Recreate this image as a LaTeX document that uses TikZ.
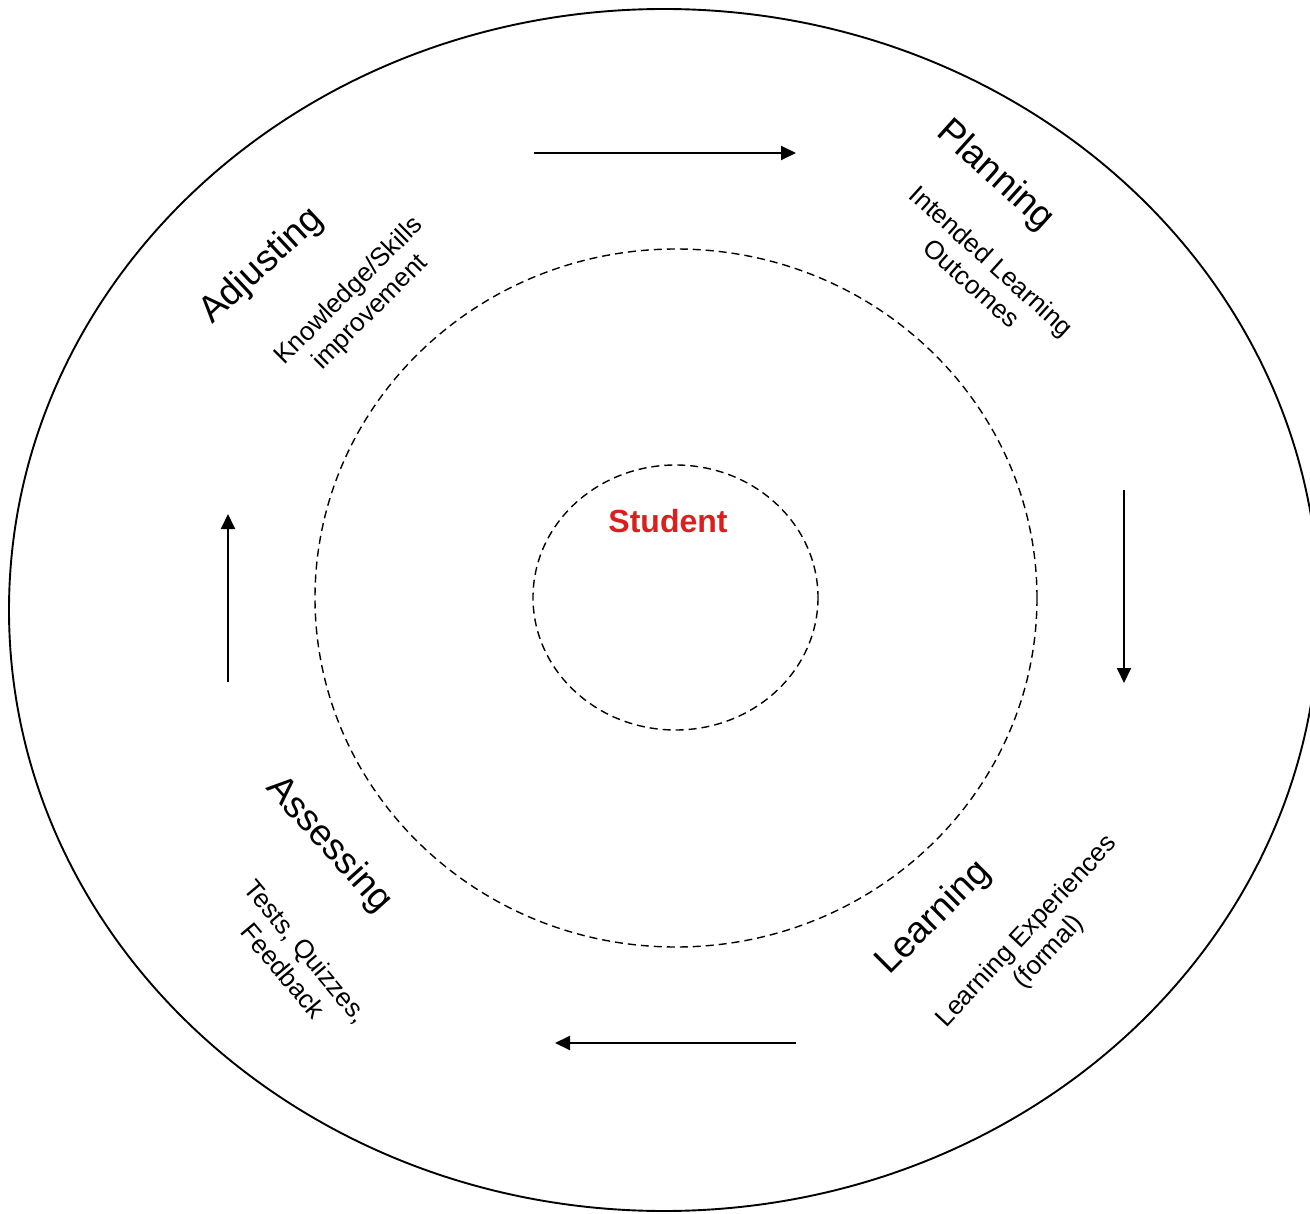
\documentclass[tikz,border=0pt]{standalone}
\usepackage{fontspec}
\setmainfont{Liberation Sans}
\usetikzlibrary{arrows.meta}
\definecolor{studentred}{RGB}{220,30,30}
\begin{document}
\begin{tikzpicture}[x=1pt,y=-1pt,
  ring/.style={draw=black,line width=1.9pt},
  dashring/.style={draw=black,line width=1.4pt,dash pattern=on 8pt off 5pt},
  flow/.style={line width=1.9pt,-{Triangle[length=15pt,width=14pt]}},
  phase/.style={font=\fontsize{37}{43}\selectfont},
  detail/.style={font=\fontsize{26}{30}\selectfont,align=center}]
\useasboundingbox (0,0) rectangle (1310,1214);
% the three rings
\draw[ring] (664,610) ellipse [x radius=655, y radius=601];
\draw[dashring] (676,598) ellipse [x radius=361, y radius=349];
\draw[dashring] (675.5,597.5) ellipse [x radius=142.5, y radius=132.5];
% centre
\node[font=\fontsize{32}{37}\selectfont\bfseries,text=studentred] (student) at (668,521) {Student};
% phases of the cycle
\node[phase,rotate=-42] (planning) at (995,176) {Planning};
\node[detail,rotate=-42] (plandet) at (982,272) {Intended Learning\\Outcomes};
\node[phase,rotate=-48] (assessing) at (329,845) {Assessing};
\node[detail,rotate=-50] (assessdet) at (295,961) {Tests, Quizzes,\\Feedback};
\node[phase,rotate=45] (learning) at (934,918) {Learning};
\node[detail,rotate=47] (learndet) at (1038,942) {Learning Experiences\\(formal)};
\node[phase,rotate=43] (adjusting) at (262,266) {Adjusting};
\node[detail,rotate=45] (adjustdet) at (360,302) {Knowledge/Skills\\improvement};
% cycle arrows
\coordinate (a1) at (534,153); \coordinate (b1) at (796,153);
\coordinate (a2) at (1124,490); \coordinate (b2) at (1124,683);
\coordinate (a3) at (796,1043); \coordinate (b3) at (555,1043);
\coordinate (a4) at (228,682); \coordinate (b4) at (228,514);
\draw[flow] (a1) -- (b1);
\draw[flow] (a2) -- (b2);
\draw[flow] (a3) -- (b3);
\draw[flow] (a4) -- (b4);
\end{tikzpicture}
\end{document}
